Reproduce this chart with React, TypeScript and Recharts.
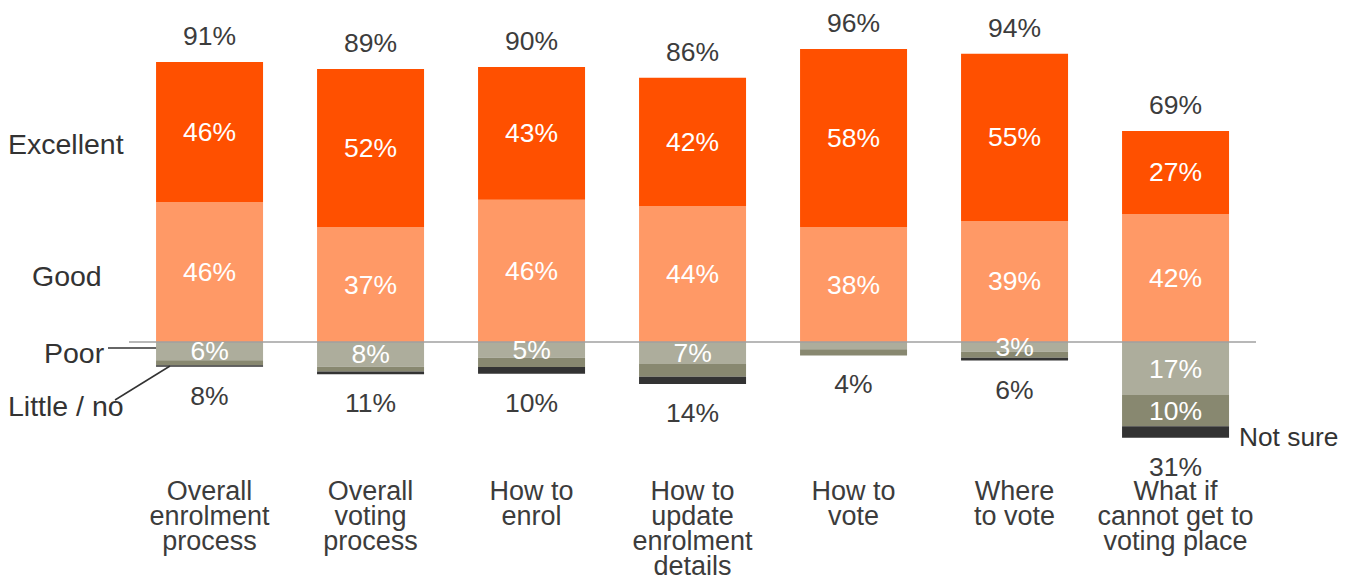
import React from "react";
import {
  ComposedChart,
  Bar,
  Line,
  XAxis,
  YAxis,
  LabelList,
  ReferenceLine,
  Customized,
} from "recharts";

const categories = [
  "Overall enrolment process",
  "Overall voting process",
  "How to enrol",
  "How to update enrolment details",
  "How to vote",
  "Where to vote",
  "What if cannot get to voting place",
];
const categoryLines = [
  ["Overall", "enrolment", "process"],
  ["Overall", "voting", "process"],
  ["How to", "enrol"],
  ["How to", "update", "enrolment", "details"],
  ["How to", "vote"],
  ["Where", "to vote"],
  ["What if", "cannot get to", "voting place"],
];

const good = [45.9, 37.7, 46.6, 44.6, 37.7, 39.7, 42.0];
const excellent = [45.9, 51.8, 43.6, 42.0, 58.4, 54.8, 27.2];
const poor = [6.0, 8.1, 5.2, 7.2, 2.4, 3.2, 17.4];
const littleNo = [1.6, 1.6, 3.0, 4.2, 2.0, 2.0, 10.2];
const notSure = [0.5, 0.9, 2.2, 2.4, 0, 0.9, 3.8];

const goodLabels = [46, 37, 46, 44, 38, 39, 42];
const excellentLabels = [46, 52, 43, 42, 58, 55, 27];
const poorLabels: (number | null)[] = [6, 8, 5, 7, null, 3, 17];
const littleLabels: (number | null)[] = [null, null, null, null, null, null, 10];
const positiveTotals = [91, 89, 90, 86, 96, 94, 69];
const negativeTotals = [8, 11, 10, 14, 4, 6, 31];

const data = categories.map((name, i) => ({
  name,
  good: good[i],
  excellent: excellent[i],
  poor: -poor[i],
  littleNo: -littleNo[i],
  notSure: -notSure[i],
  posTop: good[i] + excellent[i],
  negBottom: -(poor[i] + littleNo[i] + notSure[i]),
}));

const FONT = "'Liberation Sans', Arial, Helvetica, sans-serif";
const FS = 26.5;
const TICK_FS = 27;
const LEGEND_FS = 28.5;
const DARK = "#3c3c3c";

const COLORS = {
  excellent: "#FF5000",
  good: "#FF9966",
  poor: "#ADAD9C",
  littleNo: "#888870",
  notSure: "#333333",
};

const inside = (labels: (number | null)[]) => (props: any) => {
  const { x, y, width, height, index } = props;
  const v = labels[index];
  if (v === null || v === undefined) return null;
  return (
    <text
      x={x + width / 2}
      y={y + height / 2}
      textAnchor="middle"
      dominantBaseline="central"
      fill="#ffffff"
      fontFamily={FONT}
      fontSize={FS}
    >
      {v}%
    </text>
  );
};

const outside = (labels: number[], dy: number) => (props: any) => {
  const { x, y, index } = props;
  return (
    <text
      x={x}
      y={y + dy}
      textAnchor="middle"
      dominantBaseline="central"
      fill={DARK}
      fontFamily={FONT}
      fontSize={FS}
    >
      {labels[index]}%
    </text>
  );
};

const CategoryTick = (props: any) => {
  const { x, y, index } = props;
  const lines = categoryLines[index] || [];
  return (
    <g>
      {lines.map((l, i) => (
        <text
          key={i}
          x={x}
          y={y + 19 + i * 25}
          textAnchor="middle"
          dominantBaseline="central"
          fill={DARK}
          fontFamily={FONT}
          fontSize={TICK_FS}
        >
          {l}
        </text>
      ))}
    </g>
  );
};

const Annotations = () => (
  <g fontFamily={FONT} fill="#333333">
    <text x={8} y={144} fontSize={LEGEND_FS} dominantBaseline="central">Excellent</text>
    <text x={32} y={276} fontSize={LEGEND_FS} dominantBaseline="central">Good</text>
    <text x={44} y={353} fontSize={LEGEND_FS} dominantBaseline="central">Poor</text>
    <text x={8} y={406} fontSize={LEGEND_FS} dominantBaseline="central">Little / no</text>
    <text x={1239} y={437} fontSize={26.3} dominantBaseline="central">Not sure</text>
    <line x1={108} y1={348} x2={160} y2={348} stroke="#333333" strokeWidth={1.5} />
    <line x1={115} y1={400} x2={170} y2={366} stroke="#333333" strokeWidth={1.5} />
  </g>
);

export default function App() {
  return (
    <div style={{ position: "absolute", left: 0, top: 0, width: 1355, height: 579, background: "#fff" }}>
      <ComposedChart
        width={1355}
        height={579}
        data={data}
        stackOffset="sign"
        barCategoryGap="16.8%"
        margin={{ top: 37, right: 99, bottom: 85, left: 129 }}
      >
        <XAxis
          dataKey="name"
          axisLine={false}
          tickLine={false}
          interval={0}
          height={30}
          tick={<CategoryTick />}
        />
        <YAxis hide domain={[-40, 100]} />
        <Bar dataKey="good" stackId="a" fill={COLORS.good} isAnimationActive={false}>
          <LabelList content={inside(goodLabels)} />
        </Bar>
        <Bar dataKey="excellent" stackId="a" fill={COLORS.excellent} isAnimationActive={false}>
          <LabelList content={inside(excellentLabels)} />
        </Bar>
        <Bar dataKey="poor" stackId="a" fill={COLORS.poor} isAnimationActive={false}>
          <LabelList content={inside(poorLabels)} />
        </Bar>
        <Bar dataKey="littleNo" stackId="a" fill={COLORS.littleNo} isAnimationActive={false}>
          <LabelList content={inside(littleLabels)} />
        </Bar>
        <Bar dataKey="notSure" stackId="a" fill={COLORS.notSure} isAnimationActive={false} />
        <ReferenceLine y={0} stroke="#a0a0a0" strokeWidth={1.5} />
        <Line
          dataKey="posTop"
          stroke="none"
          dot={false}
          activeDot={false}
          isAnimationActive={false}
        >
          <LabelList content={outside(positiveTotals, -26)} />
        </Line>
        <Line
          dataKey="negBottom"
          stroke="none"
          dot={false}
          activeDot={false}
          isAnimationActive={false}
        >
          <LabelList content={outside(negativeTotals, 29)} />
        </Line>
        <Customized component={Annotations} />
      </ComposedChart>
    </div>
  );
}
